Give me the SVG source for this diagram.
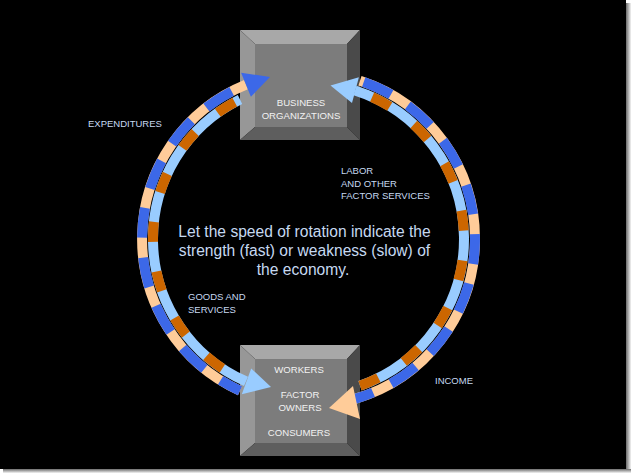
<svg xmlns="http://www.w3.org/2000/svg" width="631" height="473" viewBox="0 0 631 473">
<defs>
<linearGradient id="shR" x1="0" y1="0" x2="1" y2="0">
<stop offset="0" stop-color="#6a6a6a"/><stop offset="1" stop-color="#f4f4f4"/>
</linearGradient>
<linearGradient id="shB" x1="0" y1="0" x2="0" y2="1">
<stop offset="0" stop-color="#6a6a6a"/><stop offset="1" stop-color="#f4f4f4"/>
</linearGradient>
<style>
.lbl{font-family:"Liberation Sans",Arial,sans-serif;font-size:9.5px;fill:#c6d9f1}
.box{font-family:"Liberation Sans",Arial,sans-serif;font-size:9.6px;fill:#f2f2f2;text-anchor:middle}
.main{font-family:"Liberation Sans",Arial,sans-serif;font-size:15.6px;fill:#c6d9f1;text-anchor:middle}
.band{fill:none;stroke-width:10}
.bt{fill:#a8a8a8}.bl{fill:#979797}.br{fill:#4a4a4a}.bb{fill:#5e5e5e}.bf{fill:#7c7c7c}
</style>
</defs>
<rect x="0" y="0" width="631" height="473" fill="#ffffff"/>
<rect x="626" y="3" width="5" height="470" fill="url(#shR)"/>
<rect x="3" y="469" width="628" height="4" fill="url(#shB)"/>
<rect x="0" y="0" width="626" height="469" fill="#000000"/>

<g id="node-business">
<polygon class="bt" points="240,30 360,30 347,44 255,44"/>
<polygon class="bl" points="240,30 255,44 255,127 240,140"/>
<polygon class="br" points="360,30 360,140 347,127 347,44"/>
<polygon class="bb" points="240,140 360,140 347,127 255,127"/>
<rect class="bf" x="255" y="44" width="92" height="83"/>
<text class="box" x="301" y="106">BUSINESS</text>
<text class="box" x="301" y="119">ORGANIZATIONS</text>
</g>

<g id="node-workers">
<polygon class="bt" points="240,345 360,345 347,359 255,359"/>
<polygon class="bl" points="240,345 255,359 255,443 240,456"/>
<polygon class="br" points="360,345 360,456 347,443 347,359"/>
<polygon class="bb" points="240,456 360,456 347,443 255,443"/>
<rect class="bf" x="255" y="359" width="92" height="84"/>
<text class="box" x="299" y="373">WORKERS</text>
<text class="box" x="300" y="397.7">FACTOR</text>
<text class="box" x="300" y="410.7">OWNERS</text>
<text class="box" x="299" y="435.7">CONSUMERS</text>
</g>

<g id="connectors">
<!-- expenditures: outer left -->
<path class="band" stroke="#ffcc99" d="M240,390.7 A166.5,166.5 0 0 1 246,84.7"/>
<path class="band" stroke="#3c68e8" stroke-dasharray="30 20" stroke-dashoffset="8" d="M240,390.7 A166.5,166.5 0 0 1 246,84.7"/>
<polygon fill="#3c68e8" points="241.1,72.7 270,77 250.9,96.7"/>
<!-- goods and services: inner left -->
<path class="band" stroke="#99ccff" d="M240,99.4 A155.5,155.5 0 0 0 246,381.4"/>
<path class="band" stroke="#cc6600" stroke-dasharray="20 30" stroke-dashoffset="-6" d="M240,99.4 A155.5,155.5 0 0 0 246,381.4"/>
<polygon fill="#99ccff" points="251.2,368.5 271,387 241.8,394.3"/>
<!-- labor: inner right -->
<path class="band" stroke="#99ccff" d="M360,385.7 A155.5,155.5 0 0 0 355,90.6"/>
<path class="band" stroke="#cc6600" stroke-dasharray="20 30" stroke-dashoffset="0" d="M360,385.7 A155.5,155.5 0 0 0 355,90.6"/>
<polygon fill="#99ccff" points="358.9,77.2 330.5,85.5 352,103"/>
<!-- income: outer right -->
<path class="band" stroke="#ffcc99" d="M360,80.7 A166.5,166.5 0 0 1 355,398.9"/>
<path class="band" stroke="#3c68e8" stroke-dasharray="30 20" stroke-dashoffset="-4" d="M360,80.7 A166.5,166.5 0 0 1 355,398.9"/>
<polygon fill="#ffcc99" points="353,386 329,408 360,419"/>
</g>

<text class="lbl" x="88" y="127">EXPENDITURES</text>
<text class="lbl" x="341" y="174">LABOR</text>
<text class="lbl" x="341" y="187">AND OTHER</text>
<text class="lbl" x="341" y="198.5">FACTOR SERVICES</text>
<text class="lbl" x="188" y="299.5">GOODS AND</text>
<text class="lbl" x="188" y="312.7">SERVICES</text>
<text class="lbl" x="435" y="384">INCOME</text>

<text class="main" x="304.5" y="236.7">Let the speed of rotation indicate the</text>
<text class="main" x="304.5" y="255.7">strength (fast) or weakness (slow) of</text>
<text class="main" x="303" y="274.5">the economy.</text>
</svg>
